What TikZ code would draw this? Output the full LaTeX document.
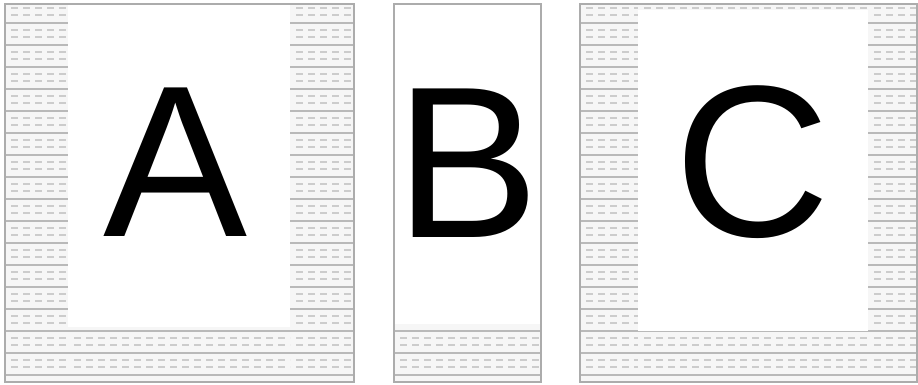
\documentclass[tikz,border=0pt]{standalone}
\usepackage{fontspec}
\setmainfont{Liberation Sans}
\tikzset{
  panel/.style={draw=gray!65, line width=1.1pt},
  rule/.style={draw=gray!55, line width=1.2pt},
  dashrow/.style={draw=gray!40, line width=1.6pt, dash pattern=on 7pt off 5pt},
  letter/.style={font=\fontsize{216}{216}\selectfont, inner sep=0pt, text=black},
}
\newcommand{\texreg}[4]{%
  \begin{scope}
    \clip (#1,#2) rectangle (#3,#4);
    \fill[gray!7] (#1,#2) rectangle (#3,#4);
    \foreach \yy in {0,22,...,396} {
      \draw[rule] (#1,\yy+1) -- (#3,\yy+1);
      \draw[dashrow] (#1+6,\yy+8) -- (#3,\yy+8);
      \draw[dashrow] (#1+6,\yy+15) -- (#3,\yy+15);
    }
  \end{scope}}
\begin{document}
\begin{tikzpicture}[x=1pt,y=-1pt]
\useasboundingbox (0,0) rectangle (918,385);
\fill[white] (0,0) rectangle (918,385);
% Panel A
\texreg{5}{4}{68}{382}
\texreg{290}{4}{355}{382}
\texreg{68}{327}{290}{382}
\draw[panel] (5,4) rectangle (354,382);
\node[letter] (A) at (176,162) {A};
% Panel B
\texreg{394}{324}{541}{382}
\draw[panel] (394,4) rectangle (541,382);
\node[letter] (B) at (468,163) {B};
% Panel C
\texreg{580}{4}{638}{382}
\texreg{868}{4}{918}{382}
\texreg{638}{331}{868}{382}
\texreg{638}{4}{868}{10}
\draw[panel] (580,4) rectangle (917,382);
\node[letter] (C) at (752,162) {C};
\end{tikzpicture}
\end{document}
